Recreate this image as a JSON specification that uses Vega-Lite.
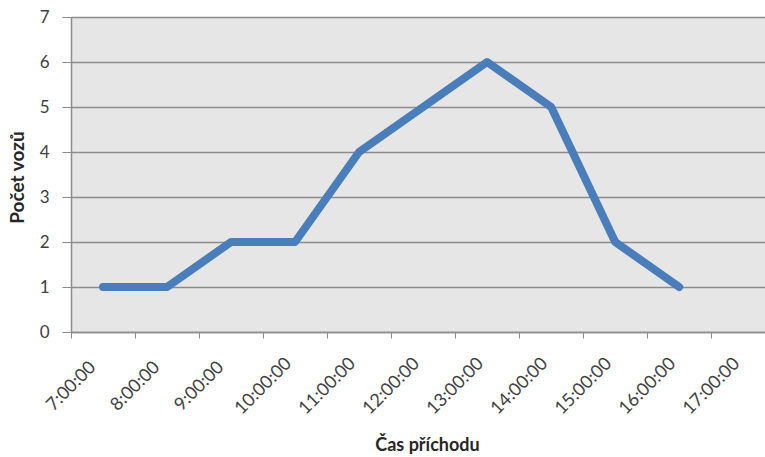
{
  "$schema": "https://vega.github.io/schema/vega-lite/v6.json",
  "width": 694,
  "height": 315,
  "autosize": {"type": "none"},
  "padding": {"left": 71, "top": 17, "right": 0, "bottom": 125},
  "background": "white",
  "config": {"view": {"fill": "#e6e6e6", "stroke": null}, "font": "Lato"},
  "data": {"values": [
    {"cas": 7.5, "pocet": 1},
    {"cas": 8.5, "pocet": 1},
    {"cas": 9.5, "pocet": 2},
    {"cas": 10.5, "pocet": 2},
    {"cas": 11.5, "pocet": 4},
    {"cas": 12.5, "pocet": 5},
    {"cas": 13.5, "pocet": 6},
    {"cas": 14.5, "pocet": 5},
    {"cas": 15.5, "pocet": 2},
    {"cas": 16.5, "pocet": 1}
  ]},
  "mark": {"type": "line", "color": "#4a7ebb", "strokeWidth": 8, "strokeCap": "round", "strokeJoin": "round"},
  "encoding": {
    "x": {
      "field": "cas", "type": "quantitative",
      "scale": {"domain": [7, 17.84], "nice": false, "zero": false},
      "axis": {
        "values": [7, 8, 9, 10, 11, 12, 13, 14, 15, 16, 17],
        "labelExpr": "datum.value + ':00:00'",
        "labelAngle": -45, "labelAlign": "center", "labelBaseline": "middle",
        "labelPadding": 48, "labelDx": 5, "labelOverlap": false, "labelFlush": false,
        "labelFontSize": 18, "labelColor": "#404040",
        "tickSize": 6, "tickColor": "#8c8c8c", "domainColor": "#8c8c8c", "domainWidth": 1.5,
        "grid": false,
        "title": "Čas příchodu", "titleFontSize": 18, "titleFontWeight": "bold", "titleColor": "#262626",
        "titleX": 356, "titleY": 118, "titleBaseline": "alphabetic", "titleAlign": "center"
      }
    },
    "y": {
      "field": "pocet", "type": "quantitative",
      "scale": {"domain": [0, 7], "nice": false},
      "axis": {
        "values": [0, 1, 2, 3, 4, 5, 6, 7],
        "labelFontSize": 17, "labelColor": "#404040", "labelPadding": 13,
        "tickSize": 9, "tickColor": "#8c8c8c", "domainColor": "#8c8c8c", "domainWidth": 1.5,
        "grid": true, "gridColor": "#8c8c8c", "gridWidth": 1.5,
        "title": "Počet vozů", "titleFontSize": 19, "titleFontWeight": "bold", "titleColor": "#262626",
        "titleX": -54, "titleY": 160, "titleBaseline": "middle", "titleAlign": "center", "titleAngle": -90
      }
    }
  }
}
